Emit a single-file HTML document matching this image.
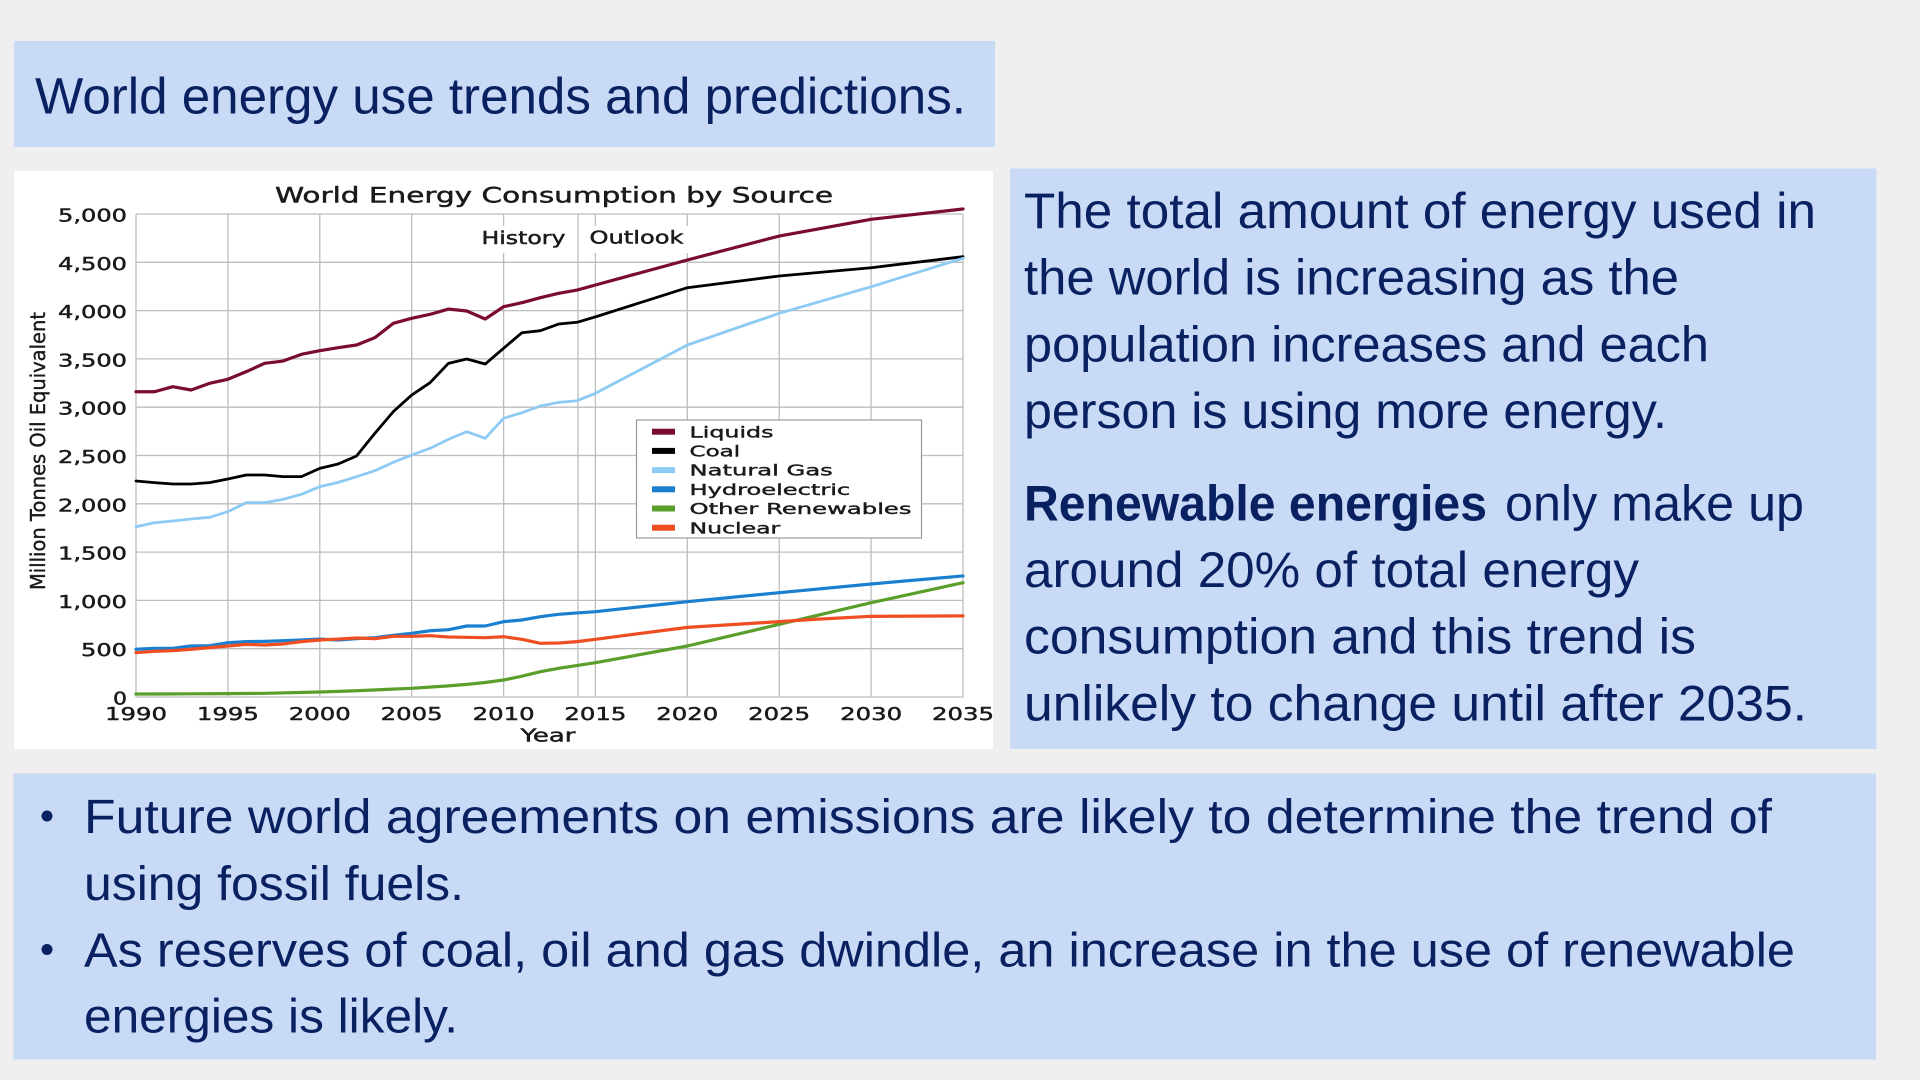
<!DOCTYPE html>
<html>
<head>
<meta charset="utf-8">
<style>
  html,body{margin:0;padding:0;background:#efefef;}
  body{width:1920px;height:1080px;overflow:hidden;}
  svg{display:block;}
</style>
</head>
<body>
<svg width="1920" height="1080" viewBox="0 0 1920 1080" xmlns="http://www.w3.org/2000/svg">
  <rect x="0" y="0" width="1920" height="1080" fill="#efefef"/>

  <!-- Title box -->
  <rect x="14" y="41" width="981" height="106" fill="#c9daf6"/>
  <text x="35" y="113.3" font-family="Liberation Sans, sans-serif" font-size="51" fill="#0a2161" textLength="931" lengthAdjust="spacingAndGlyphs">World energy use trends and predictions.</text>

  <!-- Chart panel -->
  <rect x="14" y="171" width="979" height="578" fill="#ffffff"/>

  <!-- gridlines -->
  <g stroke="#bdbdbd" stroke-width="1.3" fill="none">
    <line x1="136" y1="697" x2="963" y2="697"/>
    <line x1="136" y1="648.7" x2="963" y2="648.7"/>
    <line x1="136" y1="600.4" x2="963" y2="600.4"/>
    <line x1="136" y1="552.1" x2="963" y2="552.1"/>
    <line x1="136" y1="503.8" x2="963" y2="503.8"/>
    <line x1="136" y1="455.5" x2="963" y2="455.5"/>
    <line x1="136" y1="407.2" x2="963" y2="407.2"/>
    <line x1="136" y1="358.9" x2="963" y2="358.9"/>
    <line x1="136" y1="310.6" x2="963" y2="310.6"/>
    <line x1="136" y1="262.3" x2="963" y2="262.3"/>
    <line x1="136" y1="214" x2="963" y2="214"/>
    <line x1="136" y1="214" x2="136" y2="697"/>
    <line x1="227.9" y1="214" x2="227.9" y2="697"/>
    <line x1="319.8" y1="214" x2="319.8" y2="697"/>
    <line x1="411.7" y1="214" x2="411.7" y2="697"/>
    <line x1="503.6" y1="214" x2="503.6" y2="697"/>
    <line x1="595.4" y1="214" x2="595.4" y2="697"/>
    <line x1="687.3" y1="214" x2="687.3" y2="697"/>
    <line x1="779.2" y1="214" x2="779.2" y2="697"/>
    <line x1="871.1" y1="214" x2="871.1" y2="697"/>
    <line x1="963" y1="214" x2="963" y2="697"/>
    <line x1="578" y1="214" x2="578" y2="697"/>
  </g>

  <!-- History / Outlook labels -->
  <rect x="477" y="226" width="94" height="27" fill="#ffffff"/>
  <rect x="584" y="226" width="104" height="27" fill="#ffffff"/>
  <g font-family="DejaVu Sans, sans-serif" font-size="18" fill="#1a1a1a" stroke="#1a1a1a" stroke-width="0.45">
    <text x="481.5" y="244" textLength="84" lengthAdjust="spacingAndGlyphs">History</text>
    <text x="589.5" y="243.5" textLength="94" lengthAdjust="spacingAndGlyphs">Outlook</text>
  </g>

  <!-- Chart title -->
  <text x="275" y="202.5" font-family="DejaVu Sans, sans-serif" font-size="21" fill="#1a1a1a" stroke="#1a1a1a" stroke-width="0.45" textLength="558" lengthAdjust="spacingAndGlyphs">World Energy Consumption by Source</text>

  <!-- Data series -->
  <g transform="translate(136,697) scale(18.378,-0.0966)" fill="none" stroke-linejoin="round" stroke-linecap="round">
    <polyline vector-effect="non-scaling-stroke" stroke="#7a0c2e" stroke-width="3.2"
      points="0,3160 1,3160 2,3212 3,3178 4,3247 5,3289 6,3368 7,3454 8,3478 9,3547 10,3585 11,3616 12,3644 13,3720 14,3868 15,3920 16,3961 17,4016 18,3996 19,3913 20,4040 21,4082 22,4134 23,4179 24,4213 25,4265 30,4524 35,4772 40,4945 45,5052"/>
    <polyline vector-effect="non-scaling-stroke" stroke="#000000" stroke-width="2.8"
      points="0,2236 1,2219 2,2205 3,2205 4,2219 5,2257 6,2298 7,2298 8,2281 9,2281 10,2367 11,2412 12,2495 13,2730 14,2954 15,3126 16,3254 17,3454 18,3499 19,3447 20,3610 21,3771 22,3792 23,3861 24,3879 25,3935 30,4237 35,4358 40,4444 45,4558"/>
    <polyline vector-effect="non-scaling-stroke" stroke="#8ecbf4" stroke-width="2.8"
      points="0,1763 1,1804 2,1822 3,1843 4,1860 5,1918 6,2012 7,2012 8,2046 9,2098 10,2177 11,2222 12,2281 13,2343 14,2429 15,2505 16,2574 17,2667 18,2747 19,2678 20,2885 21,2943 22,3012 23,3050 24,3067 25,3144 30,3644 35,3972 40,4247 45,4541"/>
    <polyline vector-effect="non-scaling-stroke" stroke="#1b7fcf" stroke-width="3.2"
      points="0,494 1,504 2,504 3,528 4,531 5,562 6,573 7,576 8,583 9,590 10,600 11,590 12,604 13,614 14,638 15,659 16,686 17,697 18,735 19,735 20,780 21,797 22,831 23,856 24,870 25,883 30,987 35,1080 40,1170 45,1253"/>
    <polyline vector-effect="non-scaling-stroke" stroke="#5a9f2c" stroke-width="3.2"
      points="0,31 1,31 3,33 5,35 7,38 10,52 12,65 15,90 17,115 18,131 19,150 20,176 21,215 22,262 23,297 25,355 30,528 35,752 40,976 45,1183"/>
    <polyline vector-effect="non-scaling-stroke" stroke="#ef4e22" stroke-width="3.2"
      points="0,459 1,473 2,480 3,494 4,511 5,528 6,545 7,538 8,549 9,573 10,590 11,600 12,611 13,604 14,628 15,628 16,635 17,621 18,618 19,614 20,624 21,597 22,556 23,559 24,573 25,597 30,721 35,780 37,805 40,835 45,840"/>
  </g>

  <!-- Legend -->
  <rect x="636.5" y="420" width="285" height="118" fill="#ffffff" stroke="#999999" stroke-width="1.2"/>
  <g>
    <rect x="652" y="428.7" width="23" height="6" fill="#7a0c2e"/>
    <rect x="652" y="447.9" width="23" height="6" fill="#000000"/>
    <rect x="652" y="467.1" width="23" height="6" fill="#8ecbf4"/>
    <rect x="652" y="486.3" width="23" height="6" fill="#1b7fcf"/>
    <rect x="652" y="505.5" width="23" height="6" fill="#5a9f2c"/>
    <rect x="652" y="524.7" width="23" height="6" fill="#ef4e22"/>
  </g>
  <g font-family="DejaVu Sans, sans-serif" font-size="15.5" fill="#1a1a1a" stroke="#1a1a1a" stroke-width="0.4">
    <text x="689.5" y="437.3" textLength="84" lengthAdjust="spacingAndGlyphs">Liquids</text>
    <text x="689.5" y="456.5" textLength="50.7" lengthAdjust="spacingAndGlyphs">Coal</text>
    <text x="689.5" y="475.7" textLength="143.3" lengthAdjust="spacingAndGlyphs">Natural Gas</text>
    <text x="689.5" y="494.9" textLength="160.7" lengthAdjust="spacingAndGlyphs">Hydroelectric</text>
    <text x="689.5" y="514.1" textLength="222" lengthAdjust="spacingAndGlyphs">Other Renewables</text>
    <text x="689.5" y="533.3" textLength="90.7" lengthAdjust="spacingAndGlyphs">Nuclear</text>
  </g>

  <!-- Y tick labels -->
  <g font-family="DejaVu Sans, sans-serif" font-size="17.5" fill="#1a1a1a" stroke="#1a1a1a" stroke-width="0.45" text-anchor="end">
    <text x="127" y="221.5" textLength="69" lengthAdjust="spacingAndGlyphs">5,000</text>
    <text x="127" y="269.8" textLength="69" lengthAdjust="spacingAndGlyphs">4,500</text>
    <text x="127" y="318.1" textLength="69" lengthAdjust="spacingAndGlyphs">4,000</text>
    <text x="127" y="366.4" textLength="69" lengthAdjust="spacingAndGlyphs">3,500</text>
    <text x="127" y="414.7" textLength="69" lengthAdjust="spacingAndGlyphs">3,000</text>
    <text x="127" y="463" textLength="69" lengthAdjust="spacingAndGlyphs">2,500</text>
    <text x="127" y="511.3" textLength="69" lengthAdjust="spacingAndGlyphs">2,000</text>
    <text x="127" y="559.6" textLength="69" lengthAdjust="spacingAndGlyphs">1,500</text>
    <text x="127" y="607.9" textLength="69" lengthAdjust="spacingAndGlyphs">1,000</text>
    <text x="127" y="656.2" textLength="46" lengthAdjust="spacingAndGlyphs">500</text>
    <text x="127" y="704.5" textLength="14" lengthAdjust="spacingAndGlyphs">0</text>
  </g>

  <!-- X tick labels -->
  <g font-family="DejaVu Sans, sans-serif" font-size="17.5" fill="#1a1a1a" stroke="#1a1a1a" stroke-width="0.45" text-anchor="middle">
    <text x="136" y="720" textLength="62" lengthAdjust="spacingAndGlyphs">1990</text>
    <text x="227.9" y="720" textLength="62" lengthAdjust="spacingAndGlyphs">1995</text>
    <text x="319.8" y="720" textLength="62" lengthAdjust="spacingAndGlyphs">2000</text>
    <text x="411.7" y="720" textLength="62" lengthAdjust="spacingAndGlyphs">2005</text>
    <text x="503.6" y="720" textLength="62" lengthAdjust="spacingAndGlyphs">2010</text>
    <text x="595.4" y="720" textLength="62" lengthAdjust="spacingAndGlyphs">2015</text>
    <text x="687.3" y="720" textLength="62" lengthAdjust="spacingAndGlyphs">2020</text>
    <text x="779.2" y="720" textLength="62" lengthAdjust="spacingAndGlyphs">2025</text>
    <text x="871.1" y="720" textLength="62" lengthAdjust="spacingAndGlyphs">2030</text>
    <text x="963" y="720" textLength="62" lengthAdjust="spacingAndGlyphs">2035</text>
    <text x="548" y="741.5" textLength="55" lengthAdjust="spacingAndGlyphs">Year</text>
  </g>

  <!-- Y axis title -->
  <text transform="translate(45,451) rotate(-90)" text-anchor="middle" font-family="DejaVu Sans, sans-serif" font-size="20.5" fill="#1a1a1a" stroke="#1a1a1a" stroke-width="0.4" textLength="278" lengthAdjust="spacingAndGlyphs">Million Tonnes Oil Equivalent</text>

  <!-- Right text box -->
  <rect x="1010" y="168.5" width="866.5" height="580.5" fill="#c9daf6"/>
  <g font-family="Liberation Sans, sans-serif" font-size="50" fill="#0a2161">
    <text x="1024" y="228" textLength="792" lengthAdjust="spacingAndGlyphs">The total amount of energy used in</text>
    <text x="1024" y="294.7" textLength="655" lengthAdjust="spacingAndGlyphs">the world is increasing as the</text>
    <text x="1024" y="361.3" textLength="685" lengthAdjust="spacingAndGlyphs">population increases and each</text>
    <text x="1024" y="428" textLength="643" lengthAdjust="spacingAndGlyphs">person is using more energy.</text>
    <text x="1024" y="520.5" font-weight="bold" textLength="463" lengthAdjust="spacingAndGlyphs">Renewable energies</text>
    <text x="1505" y="520.5" textLength="299" lengthAdjust="spacingAndGlyphs">only make up</text>
    <text x="1024" y="587" textLength="615" lengthAdjust="spacingAndGlyphs">around 20% of total energy</text>
    <text x="1024" y="653.7" textLength="672" lengthAdjust="spacingAndGlyphs">consumption and this trend is</text>
    <text x="1024" y="720.3" textLength="783" lengthAdjust="spacingAndGlyphs">unlikely to change until after 2035.</text>
  </g>

  <!-- Bottom box -->
  <rect x="13.5" y="773.5" width="1862.5" height="286" fill="#c9daf6"/>
  <circle cx="47" cy="816" r="5.5" fill="#0a2161"/>
  <circle cx="47" cy="949.5" r="5.5" fill="#0a2161"/>
  <g font-family="Liberation Sans, sans-serif" font-size="48" fill="#0a2161">
    <text x="84" y="833" textLength="1688" lengthAdjust="spacingAndGlyphs">Future world agreements on emissions are likely to determine the trend of</text>
    <text x="84" y="900" textLength="380" lengthAdjust="spacingAndGlyphs">using fossil fuels.</text>
    <text x="84" y="966.5" textLength="1711" lengthAdjust="spacingAndGlyphs">As reserves of coal, oil and gas dwindle, an increase in the use of renewable</text>
    <text x="84" y="1032.5" textLength="374" lengthAdjust="spacingAndGlyphs">energies is likely.</text>
  </g>
</svg>
</body>
</html>
